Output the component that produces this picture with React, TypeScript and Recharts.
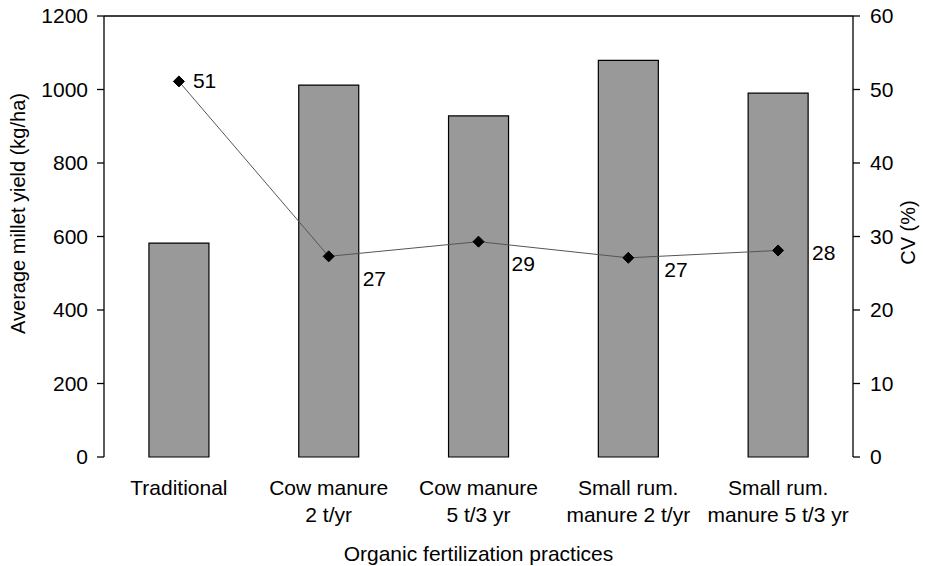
import React from "react";
import {
  ComposedChart,
  Bar,
  Line,
  XAxis,
  YAxis,
  ReferenceLine,
  Label,
} from "recharts";

const categories = [
  "Traditional",
  "Cow manure\n2 t/yr",
  "Cow manure\n5 t/3 yr",
  "Small rum.\nmanure 2 t/yr",
  "Small rum.\nmanure 5 t/3 yr",
];
const yieldValues = [582, 1012, 928, 1079, 990];
const cvValues = [51.1, 27.3, 29.3, 27.1, 28.1];
const yieldTicks = [0, 200, 400, 600, 800, 1000, 1200];
const cvTicks = [0, 10, 20, 30, 40, 50, 60];
const edgeTicks = [0, 1, 2, 3, 4, 5];

const data = categories.map((name, i) => ({
  name,
  yield: yieldValues[i],
  cv: cvValues[i],
}));

// label placement style per point: [dx, dy]
const labelPlacement: [number, number][] = [
  [14, 7],
  [34, 30],
  [33, 29],
  [36, 19],
  [34, 10],
];

const FONT = "'Liberation Sans', Arial, Helvetica, sans-serif";
const FS = 21;

const CategoryTick = (props: any) => {
  const { x, y, payload } = props;
  const lines = String(payload.value).split("\n");
  return (
    <text
      x={x}
      y={y}
      textAnchor="middle"
      fontFamily={FONT}
      fontSize={FS}
      fill="#000"
    >
      {lines.map((l, i) => (
        <tspan key={i} x={x} dy={i === 0 ? 38 : 27}>
          {l}
        </tspan>
      ))}
    </text>
  );
};

const Diamond = (props: any) => {
  const { cx, cy } = props;
  if (cx == null || cy == null) return null;
  const r = 5.5;
  return (
    <polygon
      points={`${cx},${cy - r} ${cx + r},${cy} ${cx},${cy + r} ${cx - r},${cy}`}
      fill="#000"
      stroke="#000"
    />
  );
};

const CvLabel = (props: any) => {
  const { x, y, value, index } = props;
  const [dx, dy] = labelPlacement[index] || [14, 7];
  return (
    <text
      x={x + dx}
      y={y + dy}
      fontFamily={FONT}
      fontSize={FS}
      fill="#000"
      textAnchor="start"
    >
      {Math.round(value)}
    </text>
  );
};

export default function App() {
  return (
    <div style={{ position: "absolute", left: 0, top: 0, background: "#fff" }}>
      <ComposedChart
        width={926}
        height={566}
        data={data}
        margin={{ top: 16, right: 0, bottom: 0, left: 0 }}
        barCategoryGap="30%"
      >
        <XAxis
          xAxisId="edges"
          type="number"
          domain={[0, 5]}
          ticks={edgeTicks}
          interval={0}
          tick={false}
          tickSize={6}
          height={0}
          axisLine={{ stroke: "#000", strokeWidth: 1.3 }}
          tickLine={{ stroke: "#000", strokeWidth: 1.3 }}
        />
        <XAxis
          xAxisId="cat"
          dataKey="name"
          height={109}
          axisLine={false}
          tickLine={false}
          tickSize={0}
          tickMargin={0}
          interval={0}
          tick={<CategoryTick />}
        >
          <Label
            value="Organic fertilization practices"
            position="insideBottom"
            offset={5}
            style={{ fontFamily: FONT, fontSize: FS, fill: "#000" }}
          />
        </XAxis>
        <YAxis
          yAxisId="yield"
          width={104}
          domain={[0, 1200]}
          ticks={yieldTicks}
          interval={0}
          tickSize={7}
          tickMargin={9}
          axisLine={{ stroke: "#000", strokeWidth: 1.3 }}
          tickLine={{ stroke: "#000", strokeWidth: 1.3 }}
          tick={{ fontFamily: FONT, fontSize: FS, fill: "#000" }}
        >
          <Label
            content={(p: any) => {
              const vb = p.viewBox;
              const cy = vb.y + vb.height / 2 - 23;
              return (
                <text
                  transform={`translate(25, ${cy}) rotate(-90)`}
                  textAnchor="middle"
                  fontFamily={FONT}
                  fontSize={20}
                  fill="#000"
                >
                  Average millet yield (kg/ha)
                </text>
              );
            }}
          />
        </YAxis>
        <YAxis
          yAxisId="cv"
          orientation="right"
          width={73}
          domain={[0, 60]}
          ticks={cvTicks}
          interval={0}
          tickSize={7}
          tickMargin={10}
          axisLine={{ stroke: "#000", strokeWidth: 1.3 }}
          tickLine={{ stroke: "#000", strokeWidth: 1.3 }}
          tick={{ fontFamily: FONT, fontSize: FS, fill: "#000", textAnchor: "start" }}
        >
          <Label
            content={(p: any) => {
              const vb = p.viewBox;
              const cy = vb.y + vb.height / 2 - 4;
              return (
                <text
                  transform={`translate(915, ${cy}) rotate(-90)`}
                  textAnchor="middle"
                  fontFamily={FONT}
                  fontSize={20}
                  fill="#000"
                >
                  CV (%)
                </text>
              );
            }}
          />
        </YAxis>
        <YAxis
          yAxisId="cvInner"
          orientation="right"
          mirror
          width={0}
          domain={[0, 60]}
          ticks={cvTicks}
          interval={0}
          tick={false}
          tickSize={7}
          axisLine={false}
          tickLine={{ stroke: "#000", strokeWidth: 1.3 }}
        />
        <ReferenceLine
          yAxisId="yield"
          xAxisId="cat"
          y={1200}
          stroke="#000"
          strokeWidth={1.3}
        />
        <Bar
          xAxisId="cat"
          yAxisId="yield"
          dataKey="yield"
          fill="#999999"
          stroke="#000"
          strokeWidth={1.2}
          isAnimationActive={false}
        />
        <Line
          xAxisId="cat"
          yAxisId="cv"
          dataKey="cv"
          type="linear"
          stroke="#555"
          strokeWidth={1}
          dot={<Diamond />}
          activeDot={false}
          label={<CvLabel />}
          isAnimationActive={false}
        />
      </ComposedChart>
    </div>
  );
}
